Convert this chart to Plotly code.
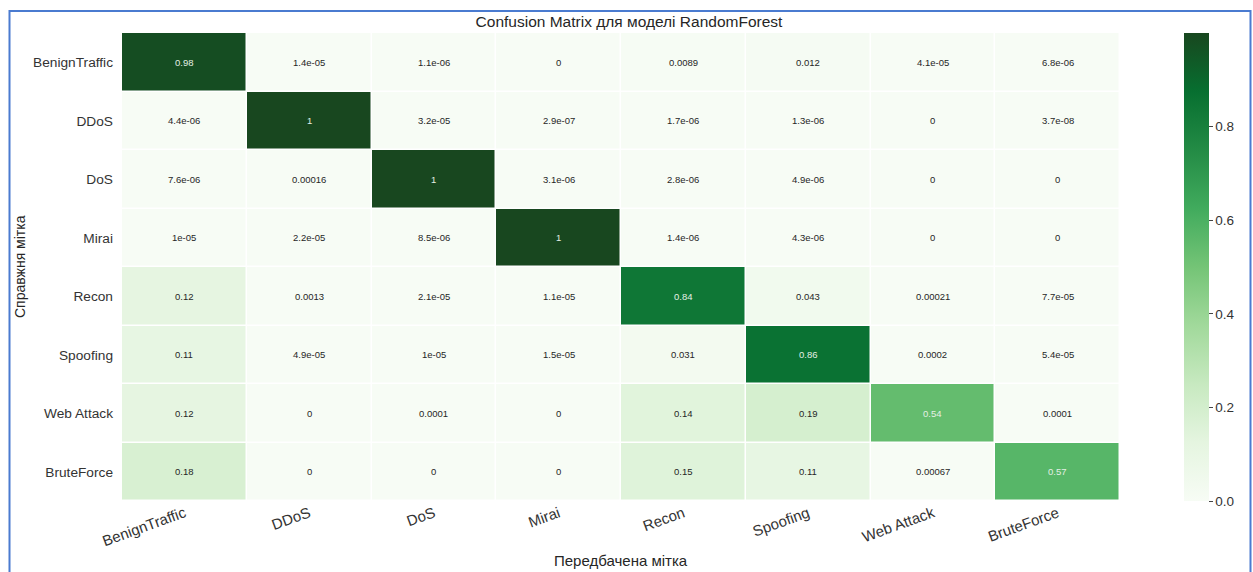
import plotly.graph_objects as go

labels = ["BenignTraffic", "DDoS", "DoS", "Mirai", "Recon", "Spoofing", "Web Attack", "BruteForce"]

row_benign = [0.98, 1.4e-05, 1.1e-06, 0, 0.0089, 0.012, 4.1e-05, 6.8e-06]
row_ddos = [4.4e-06, 1.0, 3.2e-05, 2.9e-07, 1.7e-06, 1.3e-06, 0, 3.7e-08]
row_dos = [7.6e-06, 0.00016, 1.0, 3.1e-06, 2.8e-06, 4.9e-06, 0, 0]
row_mirai = [1e-05, 2.2e-05, 8.5e-06, 1.0, 1.4e-06, 4.3e-06, 0, 0]
row_recon = [0.12, 0.0013, 2.1e-05, 1.1e-05, 0.84, 0.043, 0.00021, 7.7e-05]
row_spoof = [0.11, 4.9e-05, 1e-05, 1.5e-05, 0.031, 0.86, 0.0002, 5.4e-05]
row_web = [0.12, 0, 0.0001, 0, 0.14, 0.19, 0.54, 0.0001]
row_brute = [0.18, 0, 0, 0, 0.15, 0.11, 0.00067, 0.57]

matrix = [row_benign, row_ddos, row_dos, row_mirai, row_recon, row_spoof, row_web, row_brute]

cb_ticks = [0.0, 0.2, 0.4, 0.6, 0.8]

greens = ["#f7fcf5", "#e5f5e0", "#c7e9c0", "#a1d99b", "#74c476",
          "#41ab5d", "#238b45", "#076f30", "#18471f"]
colorscale = [[i / (len(greens) - 1), c] for i, c in enumerate(greens)]

FONT = "Liberation Sans, Arial, sans-serif"

fig = go.Figure(go.Heatmap(
    z=matrix, x=labels, y=labels,
    colorscale=colorscale, zmin=0, zmax=1,
    xgap=1.5, ygap=1.5, hoverinfo="skip",
    colorbar=dict(
        x=1184 / 1253, xanchor="left", xref="container", xpad=0,
        y=0.5, yanchor="middle", len=1.0, lenmode="fraction", ypad=0,
        thickness=25, outlinewidth=0,
        tickvals=cb_ticks, tickformat=".1f",
        ticks="outside", ticklen=4, tickcolor="#444",
        tickfont=dict(family=FONT, size=13.5, color="#333"),
    ),
))

annotations = []
for i, row in enumerate(matrix):
    for j, v in enumerate(row):
        annotations.append(dict(
            x=labels[j], y=labels[i], xref="x", yref="y",
            text=format(v, ".2g"), showarrow=False,
            font=dict(family=FONT, size=9.5, color="#e4efe4" if v > 0.5 else "#262626"),
        ))

annotations.append(dict(
    text="Передбачена мітка", xref="paper", yref="paper",
    x=0.5, y=-0.1282, yanchor="middle", showarrow=False,
    font=dict(family=FONT, size=15, color="#262626"),
))
annotations.append(dict(
    text="Справжня мітка", xref="paper", yref="paper",
    x=-0.1022, y=0.5, textangle=-90, xanchor="center", yanchor="middle", showarrow=False,
    font=dict(family=FONT, size=14, color="#262626"),
))

fig.update_layout(
    width=1253, height=572,
    margin=dict(l=122, r=133, t=33, b=71, autoexpand=False),
    paper_bgcolor="white", plot_bgcolor="white",
    font=dict(family=FONT, color="#262626"),
    title=dict(text="Confusion Matrix для моделі RandomForest",
               x=629 / 1253, xanchor="center", y=1 - 22 / 572, yanchor="middle",
               font=dict(family=FONT, size=15.5, color="#262626")),
    xaxis=dict(tickangle=-20, showgrid=False, zeroline=False, ticks="",
               tickfont=dict(family=FONT, size=15, color="#333")),
    yaxis=dict(autorange="reversed", showgrid=False, zeroline=False, ticks="",
               ticklabelstandoff=8,
               tickfont=dict(family=FONT, size=13.7, color="#333")),
    annotations=annotations,
    shapes=[dict(type="rect", xref="paper", yref="paper",
                 x0=(9.5 - 122) / 998, x1=(1250.5 - 122) / 998,
                 y0=-0.2, y1=(501 - 11) / 468,
                 line=dict(color="#4a7bd0", width=2), fillcolor="rgba(0,0,0,0)",
                 layer="above")],
)

fig.write_html("out.html")
